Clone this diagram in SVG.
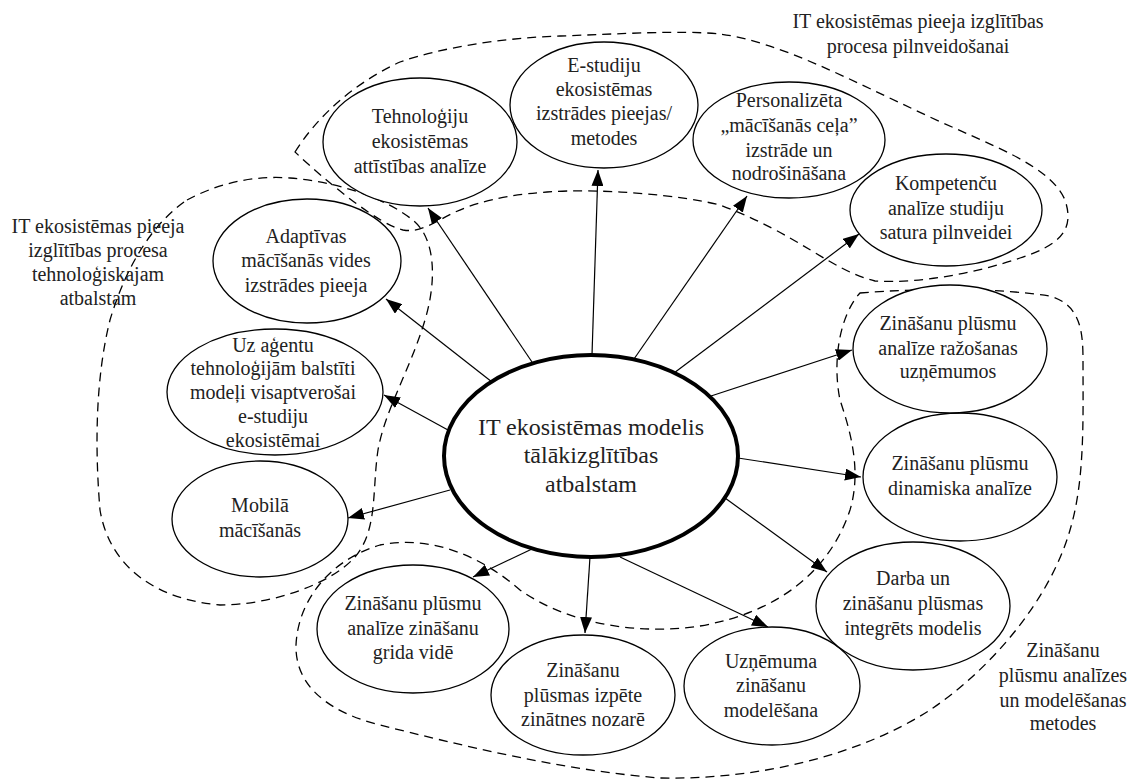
<svg xmlns="http://www.w3.org/2000/svg" width="1132" height="780" viewBox="0 0 1132 780" font-family="Liberation Serif, DejaVu Serif, serif">
<defs>
<marker id="ah" viewBox="0 0 16 12" refX="16" refY="6" markerWidth="16" markerHeight="12" markerUnits="userSpaceOnUse" orient="auto">
<path d="M0,0 L16,6 L0,12 z" fill="#000"/>
</marker>
<style>
.n{fill:#fff;stroke:#000;stroke-width:1.3}
.c{fill:#fff;stroke:#000;stroke-width:4}
text{font-family:'Liberation Serif','DejaVu Serif',serif;fill:#222;text-anchor:middle}
.t{font-size:20px}
.tc{font-size:24px}
.d{fill:none;stroke:#000;stroke-width:1.3;stroke-dasharray:9 6}
.e{stroke:#000;stroke-width:1.2;fill:none;marker-end:url(#ah)}
</style>
</defs>
<rect width="1132" height="780" fill="#fff"/>
<g id="regions">
<path id="region-top" class="d" d="M295,152 C315,120 350,85 400,62 C440,48 500,38 560,36 C620,34 680,30 720,34 C780,42 850,80 930,117 C990,145 1050,165 1065,200 C1075,230 1060,245 1020,258 C980,272 920,284 875,281 C830,270 800,235 720,205 C680,195 600,188 547,192 C490,196 460,208 440,220 C425,228 415,232 403,230 C380,225 330,185 295,152 Z"/>
<path id="region-left" class="d" d="M187,200 C215,185 250,175 290,178 C340,182 390,200 415,222 C435,240 437,280 425,320 C410,370 385,410 378,450 C372,490 378,530 355,557 C330,585 270,605 220,605 C160,600 110,570 100,510 C95,450 95,380 110,320 C125,270 150,225 187,200 Z"/>
<path id="region-bottom" class="d" d="M860,293 C920,288 1000,288 1050,296 C1080,305 1083,330 1083,360 C1083,420 1085,480 1070,530 C1050,600 990,670 930,710 C860,755 760,780 660,778 C560,770 460,745 380,725 C320,710 295,680 296,645 C298,600 330,560 380,545 C430,535 480,555 520,590 C570,625 640,635 700,626 C780,612 830,570 850,510 C862,470 850,430 840,400 C832,360 840,315 860,293 Z"/>
</g>
<g id="connectors">
<line class="e" x1="532" y1="362" x2="428" y2="208"/>
<line class="e" x1="592" y1="355" x2="598" y2="170"/>
<line class="e" x1="634" y1="359" x2="747" y2="196"/>
<line class="e" x1="674" y1="373" x2="859" y2="234"/>
<line class="e" x1="492" y1="382" x2="386" y2="299"/>
<line class="e" x1="448" y1="430" x2="384" y2="395"/>
<line class="e" x1="450" y1="490" x2="348" y2="518"/>
<line class="e" x1="532" y1="549" x2="473" y2="577"/>
<line class="e" x1="590" y1="557" x2="585" y2="633"/>
<line class="e" x1="620" y1="557" x2="768" y2="627"/>
<line class="e" x1="725" y1="498" x2="827" y2="572"/>
<line class="e" x1="738" y1="458" x2="861" y2="477"/>
<line class="e" x1="711" y1="396" x2="852" y2="350"/>
</g>
<g id="center">
<ellipse class="c" cx="591" cy="456" rx="147" ry="101"/>
<text class="tc" x="591" y="435">IT ekosistēmas modelis</text>
<text class="tc" x="591" y="463">tālākizglītības</text>
<text class="tc" x="591" y="492">atbalstam</text>
</g>
<g id="n-tehnologiju">
<ellipse class="n" cx="420" cy="142" rx="97" ry="64"/>
<text class="t" x="420" y="123">Tehnoloģiju</text>
<text class="t" x="420" y="148">ekosistēmas</text>
<text class="t" x="420" y="173">attīstības analīze</text>
</g>
<g id="n-estudiju">
<ellipse class="n" cx="604" cy="105" rx="94" ry="63"/>
<text class="t" x="604" y="72">E-studiju</text>
<text class="t" x="604" y="96">ekosistēmas</text>
<text class="t" x="604" y="120">izstrādes pieejas/</text>
<text class="t" x="604" y="145">metodes</text>
</g>
<g id="n-personalizeta">
<ellipse class="n" cx="789" cy="140" rx="96" ry="58"/>
<text class="t" x="789" y="107">Personalizēta</text>
<text class="t" x="789" y="132">„mācīšanās ceļa”</text>
<text class="t" x="789" y="157">izstrāde un</text>
<text class="t" x="789" y="180">nodrošināšana</text>
</g>
<g id="n-kompetencu">
<ellipse class="n" cx="946" cy="210" rx="96" ry="56"/>
<text class="t" x="946" y="190">Kompetenču</text>
<text class="t" x="946" y="215">analīze studiju</text>
<text class="t" x="946" y="239">satura pilnveidei</text>
</g>
<g id="n-adaptivas">
<ellipse class="n" cx="307" cy="261" rx="94" ry="62"/>
<text class="t" x="306" y="243">Adaptīvas</text>
<text class="t" x="306" y="267">mācīšanās vides</text>
<text class="t" x="306" y="292">izstrādes pieeja</text>
</g>
<g id="n-agentu">
<ellipse class="n" cx="275" cy="392" rx="108" ry="63"/>
<text class="t" x="273" y="352">Uz aģentu</text>
<text class="t" x="273" y="375">tehnoloģijām balstīti</text>
<text class="t" x="273" y="399">modeļi visaptverošai</text>
<text class="t" x="273" y="423">e-studiju</text>
<text class="t" x="273" y="447">ekosistēmai</text>
</g>
<g id="n-mobila">
<ellipse class="n" cx="260" cy="519" rx="88" ry="58"/>
<text class="t" x="260" y="512">Mobilā</text>
<text class="t" x="260" y="537">mācīšanās</text>
</g>
<g id="n-grida">
<ellipse class="n" cx="413" cy="629" rx="96" ry="64"/>
<text class="t" x="413" y="610">Zināšanu plūsmu</text>
<text class="t" x="413" y="635">analīze zināšanu</text>
<text class="t" x="413" y="659">grida vidē</text>
</g>
<g id="n-izpete">
<ellipse class="n" cx="583" cy="695" rx="92" ry="60"/>
<text class="t" x="583" y="677">Zināšanu</text>
<text class="t" x="583" y="702">plūsmas izpēte</text>
<text class="t" x="583" y="726">zinātnes nozarē</text>
</g>
<g id="n-uznemuma">
<ellipse class="n" cx="772" cy="686" rx="88" ry="59"/>
<text class="t" x="771" y="668">Uzņēmuma</text>
<text class="t" x="771" y="692">zināšanu</text>
<text class="t" x="771" y="717">modelēšana</text>
</g>
<g id="n-darba">
<ellipse class="n" cx="913" cy="606" rx="97" ry="64"/>
<text class="t" x="913" y="585">Darba un</text>
<text class="t" x="913" y="610">zināšanu plūsmas</text>
<text class="t" x="913" y="635">integrēts modelis</text>
</g>
<g id="n-dinamiska">
<ellipse class="n" cx="960" cy="477" rx="97" ry="64"/>
<text class="t" x="960" y="470">Zināšanu plūsmu</text>
<text class="t" x="960" y="495">dinamiska analīze</text>
</g>
<g id="n-razosanas">
<ellipse class="n" cx="950" cy="349" rx="97" ry="64"/>
<text class="t" x="948" y="330">Zināšanu plūsmu</text>
<text class="t" x="948" y="355">analīze ražošanas</text>
<text class="t" x="948" y="378">uzņēmumos</text>
</g>
<g id="labels">
<text class="t" x="918" y="28">IT ekosistēmas pieeja izglītības</text>
<text class="t" x="918" y="53">procesa pilnveidošanai</text>
<text class="t" x="98" y="233">IT ekosistēmas pieeja</text>
<text class="t" x="98" y="257">izglītības procesa</text>
<text class="t" x="98" y="281">tehnoloģiskajam</text>
<text class="t" x="98" y="305">atbalstam</text>
<text class="t" x="1063" y="657">Zināšanu</text>
<text class="t" x="1063" y="682">plūsmu analīzes</text>
<text class="t" x="1063" y="707">un modelēšanas</text>
<text class="t" x="1063" y="730">metodes</text>
</g>
</svg>
